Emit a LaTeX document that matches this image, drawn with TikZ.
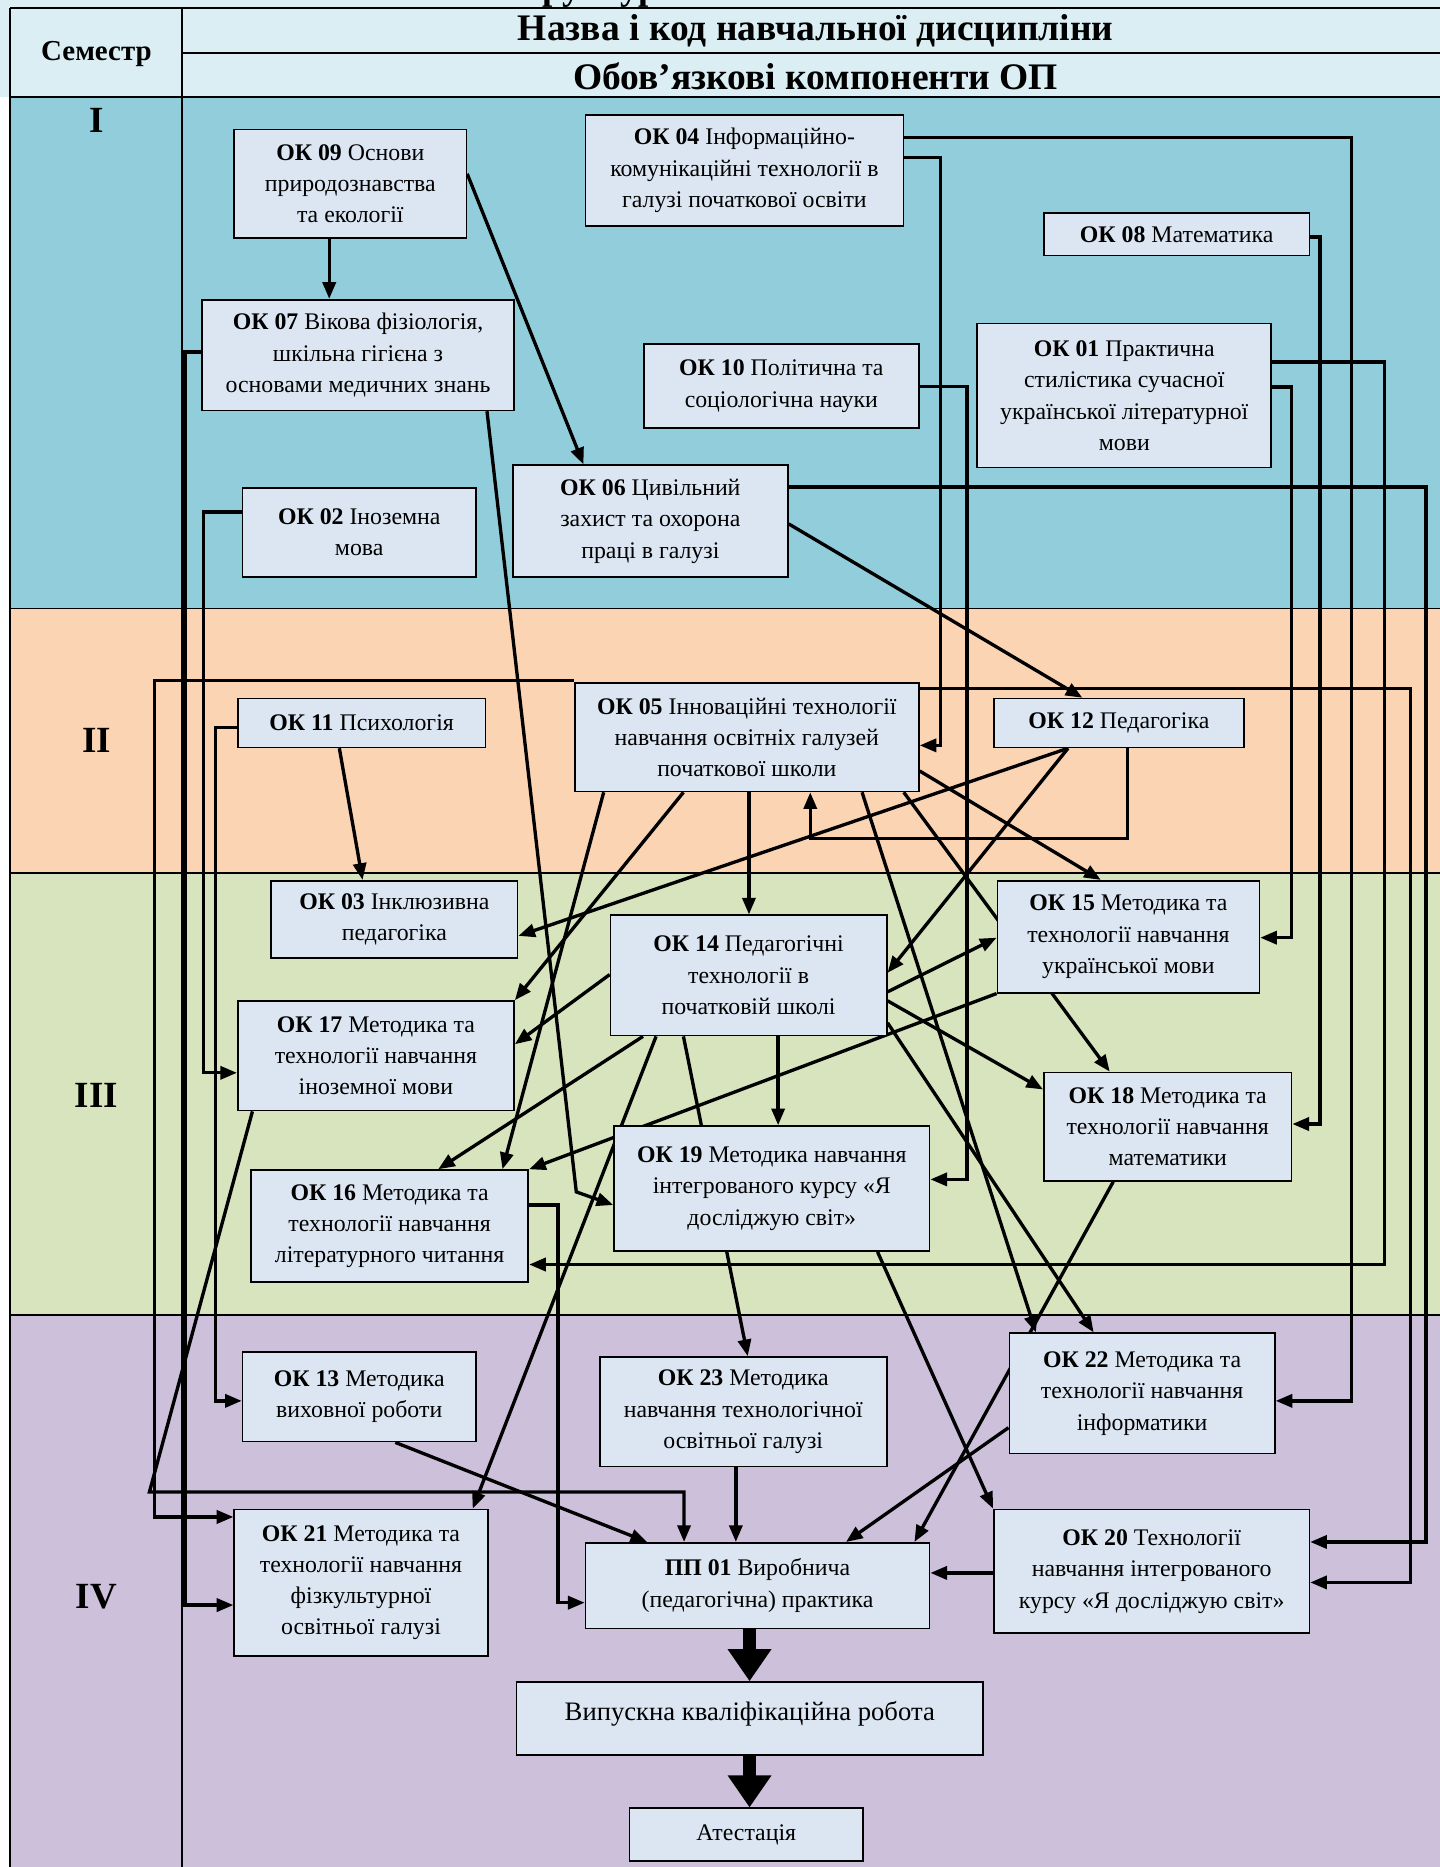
\documentclass[tikz,border=0pt]{standalone}
\usepackage{fontspec}
\setmainfont{Liberation Serif}
\usetikzlibrary{arrows.meta}
\definecolor{hdr}{HTML}{DAEEF3}
\definecolor{semI}{HTML}{92CDDC}
\definecolor{semII}{HTML}{FBD4B4}
\definecolor{semIII}{HTML}{D7E4BD}
\definecolor{semIV}{HTML}{CCC0DA}
\definecolor{boxc}{HTML}{DCE6F2}
\pgfdeclarelayer{bands}
\pgfdeclarelayer{links}
\pgfsetlayers{bands,links,main}
\begin{document}
\begin{tikzpicture}[x=1pt,y=-1pt,
  box/.style={draw=black, line width=1.4pt, fill=boxc, inner sep=0pt, align=center,
    font=\fontsize{20}{26.3}\selectfont, anchor=north west},
  conn/.style={line width=2.8pt, -{Triangle[length=14pt,width=11pt]}},
  fat/.style={line width=11pt, -{Triangle[length=27pt,width=35pt]}},
  tline/.style={line width=1.5pt},
  hd/.style={font=\bfseries\fontsize{31.5}{34}\selectfont},
  sem/.style={font=\bfseries\fontsize{31}{34}\selectfont}]
\useasboundingbox (0,0) rectangle (1209,1568);
\clip (0,0) rectangle (1209,1568);

% ---------- table background ----------
\begin{pgfonlayer}{bands}
\fill[white] (0,0) rectangle (1209,1568);
\fill[hdr] (0,0) rectangle (1209,81.3);
\fill[semI] (8.5,81.3) rectangle (1209,511);
\fill[semII] (8.5,511) rectangle (1209,733);
\fill[semIII] (8.5,733) rectangle (1209,1104.5);
\fill[semIV] (8.5,1104.5) rectangle (1209,1568);
\draw[tline] (8.5,6.6) -- (1209,6.6);
\draw[tline] (153,44.2) -- (1209,44.2);
\draw[tline] (8.5,81.3) -- (1209,81.3);
\draw[tline] (8.5,511) -- (1209,511);
\draw[tline] (8.5,733) -- (1209,733);
\draw[tline] (8.5,1104.5) -- (1209,1104.5);
\draw[tline] (8.5,6.6) -- (8.5,1568);
\draw[tline] (153,6.6) -- (153,1568);
\end{pgfonlayer}

\node[font=\bfseries\fontsize{31}{31}\selectfont, anchor=base west, inner sep=0pt] (title) at (418,0) {Структурно-логічна схема ОП};
\node[font=\bfseries\fontsize{24.3}{26}\selectfont] (semestr) at (81,45) {Семестр};
\node[hd] (hname) at (685,26) {Назва і код навчальної дисципліни};
\node[hd] (hcomp) at (685,64) {Обов’язкові компоненти ОП};
\node[sem] (sI) at (81,101) {I};
\node[sem] (sII) at (81,622) {II};
\node[sem] (sIII) at (81,920) {III};
\node[sem] (sIV) at (81,1341) {IV};

% ---------- boxes ----------
\node[box, minimum width=195pt, minimum height=91pt] (ok09) at (196,108) {\textbf{ОК 09} Основи\\природознавства\\та екології};
\node[box, minimum width=267pt, minimum height=93pt] (ok04) at (491,96) {\textbf{ОК 04} Інформаційно-\\комунікаційні технології в\\галузі початкової освіти};
\node[box, minimum width=223pt, minimum height=36pt] (ok08) at (876,178) {\textbf{ОК 08} Математика};
\node[box, minimum width=262pt, minimum height=93pt] (ok07) at (169,251) {\textbf{ОК 07} Вікова фізіологія,\\шкільна гігієна з\\основами медичних знань};
\node[box, minimum width=231pt, minimum height=71pt] (ok10) at (540,288) {\textbf{ОК 10} Політична та\\соціологічна науки};
\node[box, minimum width=247pt, minimum height=121pt] (ok01) at (820,271) {\textbf{ОК 01} Практична\\стилістика сучасної\\української літературної\\мови};
\node[box, minimum width=196pt, minimum height=75pt] (ok02) at (203,409) {\textbf{ОК 02} Іноземна\\мова};
\node[box, minimum width=231pt, minimum height=94pt] (ok06) at (430,390) {\textbf{ОК 06} Цивільний\\захист та охорона\\праці в галузі};
\node[box, minimum width=289pt, minimum height=91pt] (ok05) at (482,573) {\textbf{ОК 05} Інноваційні технології\\навчання освітніх галузей\\початкової школи};
\node[box, minimum width=208pt, minimum height=41pt] (ok11) at (199,586) {\textbf{ОК 11} Психологія};
\node[box, minimum width=210pt, minimum height=41pt] (ok12) at (834,586) {\textbf{ОК 12} Педагогіка};
\node[box, minimum width=207pt, minimum height=65pt] (ok03) at (227,739) {\textbf{ОК 03} Інклюзивна\\педагогіка};
\node[box, minimum width=232pt, minimum height=101pt] (ok14) at (512,768) {\textbf{ОК 14} Педагогічні\\технології в\\початковій школі};
\node[box, minimum width=220pt, minimum height=94pt] (ok15) at (837,739) {\textbf{ОК 15} Методика та\\технології навчання\\української мови};
\node[box, minimum width=232pt, minimum height=92pt] (ok17) at (199,840) {\textbf{ОК 17} Методика та\\технології навчання\\іноземної мови};
\node[box, minimum width=208pt, minimum height=91pt] (ok18) at (876,900) {\textbf{ОК 18} Методика та\\технології навчання\\математики};
\node[box, minimum width=265pt, minimum height=105pt] (ok19) at (515,945) {\textbf{ОК 19} Методика навчання\\інтегрованого курсу «Я\\досліджую світ»};
\node[box, minimum width=233pt, minimum height=94pt] (ok16) at (210,982) {\textbf{ОК 16} Методика та\\технології навчання\\літературного читання};
\node[box, minimum width=196pt, minimum height=75pt] (ok13) at (203,1135) {\textbf{ОК 13} Методика\\виховної роботи};
\node[box, minimum width=241pt, minimum height=92pt] (ok23) at (503,1139) {\textbf{ОК 23} Методика\\навчання технологічної\\освітньої галузі};
\node[box, minimum width=223pt, minimum height=101pt] (ok22) at (847,1119) {\textbf{ОК 22} Методика та\\технології навчання\\інформатики};
\node[box, minimum width=213pt, minimum height=123pt] (ok21) at (196,1267) {\textbf{ОК 21} Методика та\\технології навчання\\фізкультурної\\освітньої галузі};
\node[box, minimum width=289pt, minimum height=72pt] (pp01) at (491,1295) {\textbf{ПП 01} Виробнича\\(педагогічна) практика};
\node[box, minimum width=265pt, minimum height=104pt] (ok20) at (834,1267) {\textbf{ОК 20} Технології\\навчання інтегрованого\\курсу «Я досліджую світ»};
\node[box, minimum width=392pt, minimum height=61pt, text depth=12pt, font=\fontsize{22.4}{26}\selectfont] (vkr) at (433,1412) {Випускна кваліфікаційна робота};
\node[box, minimum width=196pt, minimum height=44pt] (att) at (528,1518) {Атестація};

% ---------- connectors ----------
\begin{pgfonlayer}{links}
\draw[conn] (ok09.south -| 276.5,0) -- (ok07.north -| 276.5,0);
\draw[conn] (ok09.east |- 0,146) -- (ok06.north -| 490,0);
\draw[conn] (ok07.south -| 409,0) -- (484,1001) -- (ok19.west |- 0,1012);
\draw[conn] (ok07.west |- 0,295.5) -| (155.5,1348) -- (ok21.west |- 0,1348);
\draw[conn] (ok02.west |- 0,430) -| (171,901) -- (ok17.west |- 0,901);
\draw[conn] (ok11.west |- 0,611) -| (181,1176.5) -- (ok13.west |- 0,1176.5);
\draw[conn] (ok05.west |- 0,571.5) -| (129.5,1274) -- (ok21.west |- 0,1274);
\draw[conn] (ok05.east |- 0,578.5) -| (1184.5,1329) -- (ok20.east |- 0,1329);
\draw[conn] (ok04.east |- 0,115.5) -| (1135,1176.5) -- (ok22.east |- 0,1176.5);
\draw[conn] (ok04.east |- 0,132) -| (790,626) -- (ok05.east |- 0,626);
\draw[conn] (ok08.east |- 0,199) -| (1108.5,944) -- (ok18.east |- 0,944);
\draw[conn] (ok10.east |- 0,324.5) -| (812,990.5) -- (ok19.east |- 0,990.5);
\draw[conn] (ok01.east |- 0,304) -| (1163,1062) -- (ok16.east |- 0,1062);
\draw[conn] (ok01.east |- 0,325) -| (1084.5,787.5) -- (ok15.east |- 0,787.5);
\draw[conn] (ok06.east |- 0,409) -| (1197.5,1295) -- (ok20.east |- 0,1295);
\draw[conn] (ok06.east |- 0,440) -- (ok12.north -| 909,0);
\draw[conn] (ok11.south -| 285,0) -- (ok03.north -| 304.5,0);
\draw[conn] (ok12.south -| 947,0) |- (680.5,704) -- (ok05.south -| 680.5,0);
\draw[conn] (ok12.south -| 897,0) -- (ok03.east |- 0,786);
\draw[conn] (ok12.south -| 897,0) -- (ok14.east |- 0,817);
\draw[conn] (ok05.south -| 629,0) -- (ok14.north -| 629,0);
\draw[conn] (ok05.east |- 0,647.5) -- (ok15.north -| 924.5,0);
\draw[conn] (ok05.south -| 759,0) -- (ok18.north -| 932,0);
\draw[conn] (ok05.south -| 724,0) -- (ok22.north -| 870,0);
\draw[conn] (ok05.south -| 507,0) -- (ok16.north -| 422,0);
\draw[conn] (ok05.south -| 574,0) -- (ok17.north east);
\draw[conn] (ok14.west |- 0,818.5) -- (ok17.east |- 0,877);
\draw[conn] (ok14.south -| 540,0) -- (ok16.north -| 368,0);
\draw[conn] (ok14.south -| 551,0) -- (ok21.north -| 397,0);
\draw[conn] (ok14.south -| 574,0) -- (ok23.north -| 628,0);
\draw[conn] (ok14.south -| 653.5,0) -- (ok19.north -| 653.5,0);
\draw[conn] (ok14.east |- 0,833) -- (ok15.west |- 0,787.5);
\draw[conn] (ok14.east |- 0,840.5) -- (ok18.west |- 0,915);
\draw[conn] (ok14.east |- 0,859) -- (ok22.north -| 918.5,0);
\draw[conn] (ok15.south west) -- (ok16.north east);
\draw[conn] (ok19.south -| 737,0) -- (ok20.north west);
\draw[conn] (ok18.south -| 935,0) -- (pp01.north -| 768,0);
\draw[conn] (ok22.west |- 0,1199) -- (pp01.north -| 710.5,0);
\draw[conn] (ok23.south -| 618,0) -- (pp01.north -| 618,0);
\draw[conn] (ok20.west |- 0,1321) -- (pp01.east |- 0,1321);
\draw[conn] (ok13.south -| 332,0) -- (pp01.north -| 543.5,0);
\draw[conn] (ok16.east |- 0,1012) -| (468.5,1346) -- (pp01.west |- 0,1346);
\draw[conn] (ok17.south -| 212,0) -- (125.5,1253) -| (pp01.north -| 574.5,0);
\draw[fat] (pp01.south -| 629.5,0) -- (vkr.north -| 629.5,0);
\draw[fat] (vkr.south -| 629.5,0) -- (att.north -| 629.5,0);
\end{pgfonlayer}
\end{tikzpicture}
\end{document}
